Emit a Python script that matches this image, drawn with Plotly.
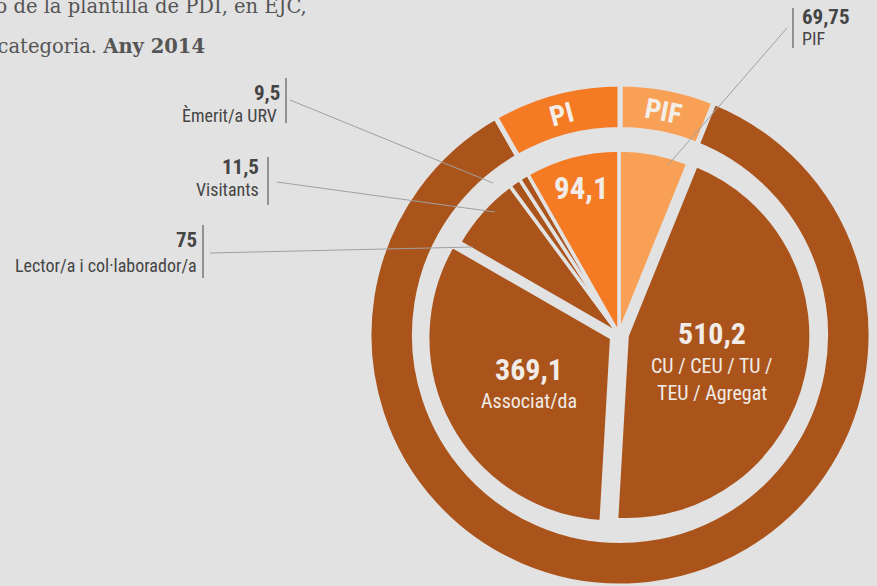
import math
import plotly.graph_objects as go

W, H = 877, 586

# ---- data ----
inner_labels = ["PIF", "CU / CEU / TU / TEU / Agregat", "Associat/da",
                "Lector/a i col·laborador/a", "Visitants", "Èmerit/a URV", "PI"]
inner_values = [69.75, 510.2, 369.1, 75, 11.5, 9.5, 94.1]
outer_labels = ["PIF", "PDI", "PI"]
outer_values = [69.75, 510.2 + 369.1 + 75 + 11.5 + 9.5, 94.1]

BG = "#E2E2E2"
BROWN = "#AA541C"
ORANGE = "#F57A24"
LIGHT = "#F8A056"
TXT = "#454545"

inner_colors = [LIGHT, BROWN, BROWN, BROWN, BROWN, BROWN, ORANGE]
outer_colors = [LIGHT, BROWN, ORANGE]
inner_pull = [0, 0.045, 0.045, 0, 0, 0, 0]


def px(x):
    return x / W


def py(y):
    return 1 - y / H


fig = go.Figure()

# outer ring
ocx, ocy, orad = 620, 335, 251
fig.add_trace(go.Pie(
    labels=outer_labels, values=outer_values, sort=False, direction="clockwise",
    rotation=0, hole=0.819, textinfo="none", hoverinfo="skip",
    marker=dict(colors=outer_colors, line=dict(color=BG, width=5)),
    domain=dict(x=[px(ocx - orad), px(ocx + orad)], y=[py(ocy + orad), py(ocy - orad)]),
    showlegend=False,
))

# inner pie
icx, icy, irad = 619, 334, 184
half = irad * (1 + max(inner_pull))
fig.add_trace(go.Pie(
    labels=inner_labels, values=inner_values, sort=False, direction="clockwise",
    rotation=0, textinfo="none", hoverinfo="skip", pull=inner_pull,
    marker=dict(colors=inner_colors, line=dict(color=BG, width=3.5)),
    domain=dict(x=[px(icx - half), px(icx + half)], y=[py(icy + half), py(icy - half)]),
    showlegend=False,
))

ann = []
NARROW = "Noto Sans Condensed, Roboto Condensed, Liberation Sans Narrow, Roboto, sans-serif"


def text(x, y, s, size, color=TXT, xanchor="center", angle=0, family=NARROW):
    ann.append(dict(x=px(x), y=py(y), xref="paper", yref="paper", text=s,
                    showarrow=False, xanchor=xanchor, yanchor="middle",
                    textangle=angle, borderpad=0,
                    font=dict(family=family, size=size, color=color)))


# outer ring labels (tangential), angles from data
tot = sum(outer_values)
cum = 0
mid_r = (207 + 249) / 2
for lab, v in zip(outer_labels, outer_values):
    a = (cum + v / 2) / tot * 360
    cum += v
    if lab == "PDI":
        continue
    ang = a if a < 180 else a - 360
    x = ocx + mid_r * math.sin(math.radians(a))
    y = ocy - mid_r * math.cos(math.radians(a))
    text(x, y, "<b>%s</b>" % lab, 28, color="#F4EEE8", angle=ang)

# inner labels
WHITE = "#F1ECE8"
text(581, 188, "<b>94,1</b>", 31, WHITE)
text(712, 333, "<b>510,2</b>", 30, WHITE)
text(712, 366, "CU / CEU / TU /", 20, WHITE)
text(712, 393, "TEU / Agregat", 20, WHITE)
text(529, 369, "<b>369,1</b>", 30, WHITE)
text(529, 401, "Associat/da", 20, WHITE)

# outside labels
text(281, 93, "<b>9,5</b>", 21, xanchor="right")
text(278, 115, "Èmerit/a URV", 18, xanchor="right")
text(260, 167, "<b>11,5</b>", 21, xanchor="right")
text(260, 190, "Visitants", 18, xanchor="right")
text(198, 240, "<b>75</b>", 21, xanchor="right")
text(198, 265, "Lector/a i col·laborador/a", 18, xanchor="right")
text(801, 17, "<b>69,75</b>", 21, xanchor="left")
text(801, 39, "PIF", 18, xanchor="left")

# title (partially cut off)
SERIF = "DejaVu Serif, Liberation Serif, serif"
text(308, 6, "Distribució de la plantilla de PDI, en EJC,", 19.5, color="#555555",
     xanchor="right", family=SERIF)
text(206, 46, "per categoria. <b>Any 2014</b>", 19.5, color="#555555",
     xanchor="right", family=SERIF)

shapes = []


def seg(x0, y0, x1, y1, color, width):
    shapes.append(dict(type="line", xref="paper", yref="paper",
                       x0=px(x0), y0=py(y0), x1=px(x1), y1=py(y1),
                       line=dict(color=color, width=width)))


# vertical bars next to labels
seg(286, 78, 286, 123, "#666666", 1.3)
seg(268, 157, 268, 205, "#666666", 1.3)
seg(203, 225, 203, 278, "#666666", 1.3)
seg(793, 8, 793, 48, "#666666", 1.3)
# leader lines
seg(290, 100, 493, 183, "#A0A0A0", 1)
seg(277, 182, 495, 212, "#A0A0A0", 1)
seg(210, 253, 473, 247, "#A0A0A0", 1)
seg(787, 28, 668, 165, "#A0A0A0", 1)

fig.update_layout(
    width=W, height=H, margin=dict(l=0, r=0, t=0, b=0),
    paper_bgcolor=BG, plot_bgcolor=BG,
    annotations=ann, shapes=shapes,
)

fig.write_html(
    "out.html",
    config={"displayModeBar": False},
    post_script="document.body.style.margin='0';document.body.style.background='%s';" % BG,
)
